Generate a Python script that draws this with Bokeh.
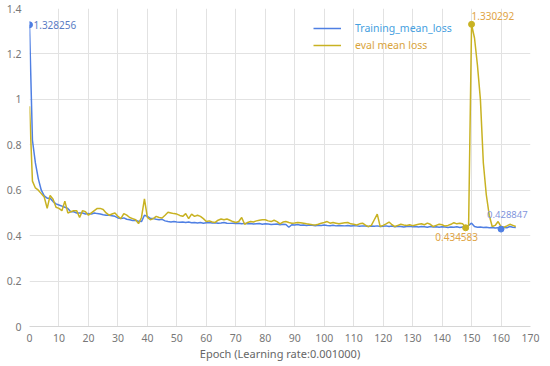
import numpy as np
from bokeh.plotting import figure
from bokeh.models import ColumnDataSource, Legend, LegendItem, FixedTicker
from bokeh.core.properties import value
from bokeh.embed import file_html
from bokeh.resources import INLINE

# ---------------- data ----------------
epochs = list(range(0, 166))

training_mean_loss = [
    1.328256, 0.82, 0.72, 0.65, 0.60, 0.575, 0.565, 0.565, 0.55, 0.54,
    0.535, 0.53, 0.525, 0.52, 0.505, 0.505, 0.50, 0.50, 0.50, 0.495,
    0.497, 0.495, 0.50, 0.497, 0.495, 0.492, 0.49, 0.49, 0.488, 0.485,
    0.478, 0.475, 0.478, 0.472, 0.47, 0.467, 0.468, 0.463, 0.462, 0.49,
    0.485, 0.476, 0.475, 0.472, 0.47, 0.472, 0.465, 0.462, 0.46, 0.462,
    0.46, 0.459, 0.46, 0.458, 0.46, 0.457, 0.458, 0.456, 0.458, 0.455,
    0.457, 0.458, 0.456, 0.457, 0.455, 0.456, 0.458, 0.455, 0.454, 0.455,
    0.453, 0.455, 0.452, 0.454, 0.452, 0.453, 0.451, 0.452, 0.453, 0.45,
    0.452, 0.451, 0.449, 0.45, 0.451, 0.448, 0.45, 0.449, 0.437, 0.448,
    0.447, 0.449, 0.446, 0.447, 0.445, 0.447, 0.446, 0.444, 0.446, 0.445,
    0.447, 0.445, 0.444, 0.446, 0.443, 0.445, 0.444, 0.443, 0.445, 0.442,
    0.444, 0.443, 0.441, 0.443, 0.442, 0.44, 0.442, 0.441, 0.443, 0.44,
    0.441, 0.443, 0.44, 0.442, 0.439, 0.441, 0.44, 0.438, 0.44, 0.441,
    0.439, 0.44, 0.438, 0.44, 0.439, 0.437, 0.44, 0.438, 0.439, 0.437,
    0.439, 0.438, 0.436, 0.438, 0.437, 0.439, 0.436, 0.438, 0.44, 0.445,
    0.455, 0.44, 0.437, 0.438, 0.436, 0.437, 0.435, 0.436, 0.434, 0.435,
    0.428847, 0.436, 0.435, 0.44, 0.437, 0.436,
]

eval_mean_loss = [
    0.97, 0.64, 0.61, 0.60, 0.585, 0.57, 0.52, 0.577, 0.56, 0.525,
    0.52, 0.51, 0.552, 0.50, 0.505, 0.51, 0.51, 0.48, 0.51, 0.505,
    0.49, 0.50, 0.51, 0.52, 0.52, 0.515, 0.50, 0.49, 0.495, 0.50,
    0.485, 0.475, 0.497, 0.49, 0.48, 0.475, 0.47, 0.453, 0.48, 0.562,
    0.48, 0.47, 0.475, 0.485, 0.48, 0.478, 0.49, 0.503, 0.50, 0.497,
    0.495, 0.489, 0.485, 0.497, 0.475, 0.495, 0.485, 0.49, 0.485, 0.475,
    0.462, 0.465, 0.46, 0.458, 0.468, 0.473, 0.47, 0.473, 0.468, 0.462,
    0.458, 0.462, 0.48, 0.45, 0.458, 0.462, 0.46, 0.465, 0.468, 0.47,
    0.47, 0.465, 0.462, 0.468, 0.462, 0.452, 0.46, 0.462, 0.458, 0.455,
    0.456, 0.458, 0.457, 0.455, 0.452, 0.45, 0.448, 0.447, 0.45, 0.455,
    0.458, 0.462, 0.455, 0.458, 0.455, 0.452, 0.455, 0.457, 0.458, 0.452,
    0.45, 0.447, 0.452, 0.455, 0.446, 0.44, 0.445, 0.47, 0.495, 0.44,
    0.445, 0.452, 0.46, 0.448, 0.44, 0.445, 0.45, 0.447, 0.445, 0.448,
    0.444, 0.447, 0.45, 0.452, 0.448, 0.455, 0.45, 0.44, 0.445, 0.45,
    0.448, 0.442, 0.445, 0.45, 0.457, 0.452, 0.455, 0.452, 0.434583, 0.445,
    1.330292, 1.27, 1.15, 1.00, 0.72, 0.58, 0.49, 0.44, 0.445, 0.462,
    0.44, 0.437, 0.443, 0.45, 0.445, 0.44,
]

x_ticks = [0, 10, 20, 30, 40, 50, 60, 70, 80, 90, 100, 110, 120, 130, 140, 150, 160, 170]
y_ticks = [0, 0.2, 0.4, 0.6, 0.8, 1, 1.2, 1.4]
y_tick_labels = ["0", "0.2", "0.4", "0.6", "0.8", "1", "1.2", "1.4"]

series_names = ["Training_mean_loss", "eval mean loss"]
x_title = "Epoch (Learning rate:0.001000)"

# ---------------- styling ----------------
FONT = "Noto Sans"
BLUE_LINE = "#4f7fe3"
GOLD_LINE = "#c8b222"
BLUE_TEXT = "#45a0e0"
GOLD_TEXT = "#d9a43c"
ANN_BLUE = "#5a7cc4"
ANN_GOLD = "#e0a445"
GRID = "#e2e2e2"
TICK_TEXT = "#777777"

p = figure(width=550, height=366, x_range=(0, 170), y_range=(0, 1.4),
           output_backend="svg", toolbar_location=None,
           min_border_left=29, min_border_right=20, min_border_top=8,
           min_border_bottom=40)
p.outline_line_color = None
p.background_fill_color = "white"

p.xaxis.ticker = FixedTicker(ticks=x_ticks)
p.yaxis.ticker = FixedTicker(ticks=y_ticks)
p.yaxis.major_label_overrides = dict(zip(y_ticks, y_tick_labels))

for ax in (p.xaxis, p.yaxis):
    ax.axis_line_color = None
    ax.major_tick_line_color = None
    ax.minor_tick_line_color = None
    ax.major_tick_out = 0
    ax.major_tick_in = 0
    ax.minor_tick_out = 0
    ax.major_label_text_font = FONT
    ax.major_label_text_font_size = "10.5px"
    ax.major_label_text_color = TICK_TEXT
p.yaxis.major_label_standoff = 8
p.xaxis.major_label_standoff = 7
p.xaxis.axis_label = x_title
p.xaxis.axis_label_text_font = FONT
p.xaxis.axis_label_text_font_style = "normal"
p.xaxis.axis_label_text_font_size = "11px"
p.xaxis.axis_label_text_color = "#666666"
p.xaxis.axis_label_standoff = 1

p.xgrid.grid_line_color = GRID
p.ygrid.grid_line_color = GRID
p.xaxis.axis_line_color = "#d6d6d6"

src = ColumnDataSource(dict(epoch=epochs, train=training_mean_loss, ev=eval_mean_loss))
r_train = p.line("epoch", "train", source=src, line_color=BLUE_LINE, line_width=1.5)
r_eval = p.line("epoch", "ev", source=src, line_color=GOLD_LINE, line_width=1.5)

# ---------------- annotations from data ----------------
tr = np.array(training_mean_loss)
ev = np.array(eval_mean_loss)
i_tmax, i_tmin = int(tr.argmax()), int(tr.argmin())
i_emax, i_emin = int(ev.argmax()), int(ev.argmin())

def ann(i, arr, mcolor, tcolor, xo, yo, align, fs="10px"):
    s = ColumnDataSource(dict(x=[epochs[i]], y=[arr[i]], t=[f"{arr[i]:.6f}"]))
    p.scatter("x", "y", source=s, size=6, fill_color=mcolor, line_color=mcolor)
    p.text("x", "y", text="t", source=s, x_offset=xo, y_offset=yo,
           text_font=value(FONT), text_font_size=fs, text_color=tcolor,
           text_align=align, text_baseline="middle")

ann(i_tmax, tr, BLUE_LINE, ANN_BLUE, 4, 0, "left")
ann(i_tmin, tr, BLUE_LINE, "#7f95dc", -14, -15, "left", "9.5px")
ann(i_emax, ev, GOLD_LINE, ANN_GOLD, 0, -8, "left")
ann(i_emin, ev, GOLD_LINE, ANN_GOLD, -9, 9, "center")

# ---------------- legends ----------------
def make_legend(name, rend, color, loc):
    lg = Legend(items=[LegendItem(label=name, renderers=[rend])], location=loc,
                padding=0, margin=0, spacing=0, border_line_alpha=0,
                background_fill_alpha=0, glyph_width=28, glyph_height=16,
                label_height=16, label_standoff=14,
                label_text_font=FONT, label_text_font_size="10.5px",
                label_text_color=color)
    p.add_layout(lg, "center")

make_legend(series_names[0], r_train, BLUE_TEXT, (284, 290))
make_legend(series_names[1], r_eval, GOLD_TEXT, (284, 273))

open("out.html", "w").write(file_html(p, INLINE))
